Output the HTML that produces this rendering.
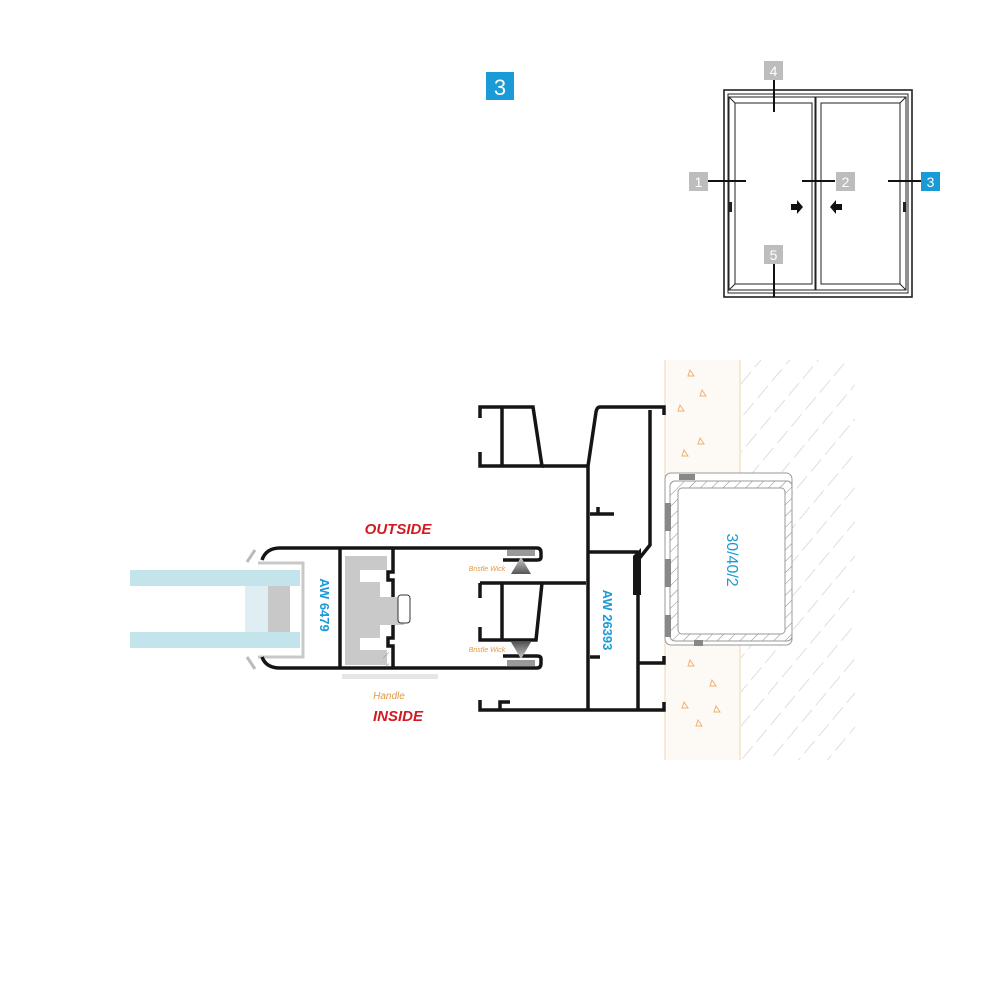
<!DOCTYPE html>
<html><head><meta charset="utf-8"><style>
html,body{margin:0;padding:0;background:#fff;}
svg{display:block;}
text{font-family:"Liberation Sans",sans-serif;}
</style></head><body>
<svg width="1000" height="1000" viewBox="0 0 1000 1000" xmlns="http://www.w3.org/2000/svg">
<defs>
<pattern id="hatch" width="22" height="22" patternUnits="userSpaceOnUse" patternTransform="rotate(40)">
<line x1="0" y1="0" x2="0" y2="22" stroke="#c9c9c9" stroke-width="1.2" stroke-dasharray="16 6"/>
</pattern>
<pattern id="thatch" width="8" height="8" patternUnits="userSpaceOnUse" patternTransform="rotate(45)">
<line x1="0" y1="0" x2="0" y2="8" stroke="#888" stroke-width="1"/>
</pattern>
<linearGradient id="br" x1="0" y1="0" x2="0" y2="1"><stop offset="0" stop-color="#555"/><stop offset="1" stop-color="#ccc"/></linearGradient>
<linearGradient id="br2" x1="0" y1="1" x2="0" y2="0"><stop offset="0" stop-color="#555"/><stop offset="1" stop-color="#ccc"/></linearGradient>
</defs>

<!-- big label 3 -->
<rect x="486" y="72" width="28" height="28" fill="#1a9ad6"/>
<text x="500" y="95" font-size="22" fill="#fff" text-anchor="middle">3</text>

<!-- inset window -->
<g fill="none" stroke="#222" stroke-width="1.6">
<rect x="724" y="90" width="188" height="207"/>
<rect x="728" y="94" width="180" height="199" stroke-width="1"/>
<rect x="729" y="97" width="86" height="193" stroke-width="1"/>
<rect x="735" y="103" width="77" height="181" stroke-width="1"/>
<rect x="816" y="97" width="90" height="193" stroke-width="1"/>
<rect x="821" y="103" width="79" height="181" stroke-width="1"/>
<line x1="729" y1="97" x2="735" y2="103" stroke-width="1"/>
<line x1="906" y1="97" x2="900" y2="103" stroke-width="1"/>
<line x1="729" y1="290" x2="735" y2="284" stroke-width="1"/>
<line x1="906" y1="290" x2="900" y2="284" stroke-width="1"/>
</g>
<rect x="729" y="202" width="3" height="10" fill="#222"/>
<rect x="903" y="202" width="3" height="10" fill="#222"/>
<g stroke="#111" stroke-width="2">
<line x1="708" y1="181" x2="746" y2="181"/>
<line x1="802" y1="181" x2="835" y2="181"/>
<line x1="888" y1="181" x2="921" y2="181"/>
<line x1="774" y1="80" x2="774" y2="112"/>
<line x1="774" y1="263" x2="774" y2="297"/>
</g>
<path d="M791 204h6v-4l6 7-6 7v-4h-6z" fill="#111"/>
<path d="M842 204h-6v-4l-6 7 6 7v-4h6z" fill="#111"/>
<g font-size="14" fill="#fff" text-anchor="middle">
<rect x="764" y="61" width="19" height="19" fill="#bdbdbd"/><text x="773.5" y="76">4</text>
<rect x="689" y="172" width="19" height="19" fill="#bdbdbd"/><text x="698.5" y="187">1</text>
<rect x="836" y="172" width="19" height="19" fill="#bdbdbd"/><text x="845.5" y="187">2</text>
<rect x="921" y="172" width="19" height="19" fill="#1a9ad6"/><text x="930.5" y="187">3</text>
<rect x="764" y="245" width="19" height="19" fill="#bdbdbd"/><text x="773.5" y="260">5</text>
</g>

<!-- wall -->
<rect x="665" y="360" width="75" height="400" fill="#fdfaf5"/>
<line x1="665" y1="360" x2="665" y2="760" stroke="#f0d6b0" stroke-width="1"/>
<line x1="740" y1="360" x2="740" y2="760" stroke="#f0d6b0" stroke-width="1"/>
<rect x="741" y="360" width="114" height="400" fill="url(#hatch)"/>
<g fill="none" stroke="#f0b070" stroke-width="1">
<path d="M690 370l4 6h-6z M702 390l4 6h-6z M680 405l4 6h-6z M700 438l4 6h-6z M684 450l4 6h-6z M690 660l4 6h-6z M712 680l4 6h-6z M684 702l4 6h-6z M716 706l4 6h-6z M698 720l4 6h-6z"/>
</g>

<!-- tube 30/40/2 -->
<rect x="665" y="473" width="127" height="172" rx="6" fill="#fff" stroke="#999" stroke-width="1"/>
<rect x="670" y="481" width="122" height="160" rx="5" fill="url(#thatch)" stroke="#999"/>
<rect x="678" y="488" width="107" height="146" rx="4" fill="#fff" stroke="#999"/>
<rect x="679" y="474" width="16" height="6" fill="#888"/>
<rect x="694" y="640" width="9" height="6" fill="#888"/>
<rect x="665" y="503" width="6" height="28" fill="#888"/>
<rect x="665" y="559" width="6" height="28" fill="#888"/>
<rect x="665" y="615" width="6" height="22" fill="#888"/>
<text transform="translate(727,560) rotate(90)" font-size="16" fill="#1a9ad6" text-anchor="middle">30/40/2</text>

<!-- glass -->
<rect x="130" y="570" width="170" height="16" fill="#c2e4ea"/>
<rect x="130" y="632" width="170" height="16" fill="#c2e4ea"/>
<rect x="245" y="586" width="23" height="46" fill="#dfeef2"/>
<rect x="268" y="586" width="22" height="46" fill="#c8c8c8"/>
<path d="M247 562l8-12 M247 657l8 12" stroke="#bbb" stroke-width="3"/>
<path d="M258 563h45v94h-45" fill="none" stroke="#c8c8c8" stroke-width="3"/>

<!-- sash AW 6479 -->
<g fill="none" stroke="#151515" stroke-width="3.5">
<path d="M262 560 Q266 548 280 548 H537 Q541 548 541 553 V557 Q541 560 537 560 H503"/>
<path d="M262 657 Q266 668 280 668 H537 Q541 668 541 663 V659 Q541 656 537 656 H503"/>
<line x1="340" y1="548" x2="340" y2="668"/>
<path d="M393 548 V572 H388 V580 H393 V597 M393 624 V638 H388 V646 H393 V668"/>
<path d="M480 583 H586 M480 583 V598 M480 627 V640 H536 L542 583 M502 583 V640"/>
</g>
<rect x="507" y="550" width="28" height="6" fill="#999"/>
<rect x="507" y="660" width="28" height="6" fill="#999"/>
<path d="M521 557 L511 574 H531 Z" fill="url(#br2)"/>
<path d="M521 659 L511 642 H531 Z" fill="url(#br)"/>
<path d="M345 556 H387 V570 H360 V582 H380 V597 H404 V625 H380 V638 H360 V650 H387 V665 H345 Z" fill="#c9c9c9"/>
<rect x="398" y="595" width="12" height="28" rx="3" fill="#fff" stroke="#333" stroke-width="1"/>
<rect x="383" y="648" width="6" height="18" fill="url(#thatch)"/>
<rect x="342" y="674" width="96" height="5" fill="#e6e6e6"/>
<text transform="translate(320,605) rotate(90)" font-size="13" font-weight="bold" fill="#1a9ad6" text-anchor="middle">AW 6479</text>

<!-- frame AW 26393 -->
<g fill="none" stroke="#151515" stroke-width="3.5">
<path d="M480 418 V407 H533 L542 466 H480 V452 M502 407 V466"/>
<path d="M542 466 H588"/>
<path d="M664 415 V407 H600 Q597 407 596 412 L588 466 V710"/>
<path d="M650 410 V545 L638 560 V710"/>
<path d="M588 552 H638"/>
<path d="M590 514 H614 M598 514 V507"/>
<path d="M590 657 H600"/>
<path d="M638 663 H664 V656"/>
<path d="M480 700 V710 H664 V702"/>
<path d="M500 710 V702 H510"/>
</g>
<path d="M633 556 L641 548 L641 595 L633 595 Z" fill="#151515"/>
<text transform="translate(603,620) rotate(90)" font-size="13" font-weight="bold" fill="#1a9ad6" text-anchor="middle">AW 26393</text>

<!-- labels -->
<text x="398" y="534" font-size="15" font-weight="bold" font-style="italic" fill="#d01b22" text-anchor="middle">OUTSIDE</text>
<text x="398" y="721" font-size="15" font-weight="bold" font-style="italic" fill="#d01b22" text-anchor="middle">INSIDE</text>
<text x="389" y="699" font-size="10" font-style="italic" fill="#e09a40" text-anchor="middle">Handle</text>
<text x="487" y="571" font-size="7" font-style="italic" fill="#e09a40" text-anchor="middle">Bristle Wick</text>
<text x="487" y="652" font-size="7" font-style="italic" fill="#e09a40" text-anchor="middle">Bristle Wick</text>
</svg>
</body></html>
